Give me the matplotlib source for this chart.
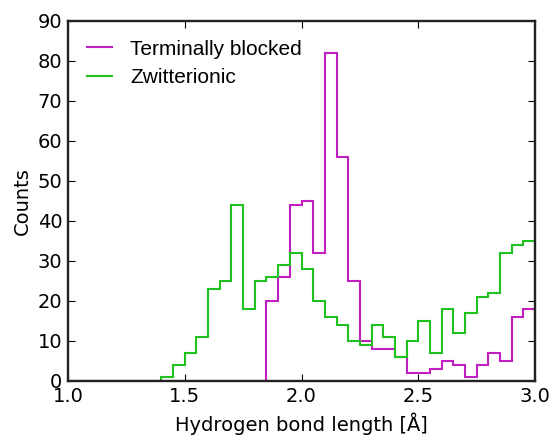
import numpy as np
import matplotlib.pyplot as plt

# bin edges 1.0 .. 3.0, width 0.05
edges = np.round(np.arange(1.0, 3.0001, 0.05), 2)

# counts per bin
blocked = [0, 0, 0, 0, 0, 0, 0, 0, 0, 0,
           0, 0, 0, 0, 0, 0, 0, 20, 26, 44,
           45, 32, 82, 56, 25, 10, 8, 8, 6, 2,
           2, 3, 5, 4, 1, 4, 7, 5, 16, 18]
zwitter = [0, 0, 0, 0, 0, 0, 0, 0, 1, 4,
           7, 11, 23, 25, 44, 18, 25, 26, 29, 32,
           28, 20, 16, 14, 10, 9, 14, 11, 6, 10,
           15, 7, 18, 12, 17, 21, 22, 32, 34, 35]

fig = plt.figure(figsize=(5.55, 4.43), dpi=100)
ax = fig.add_axes([0.1225, 0.14, 0.8415, 0.8126])

ax.stairs(blocked, edges, color='#c21fc2', lw=1.5, label='Terminally blocked')
ax.stairs(zwitter, edges, color='#1fc31f', lw=1.5, label='Zwitterionic')

# spines on top so the zero-count segments disappear under them
for s in ax.spines.values():
    s.set_zorder(5)
    s.set_linewidth(1.7)
    s.set_color('#222222')

ax.set_xlim(1.0, 3.0)
ax.set_ylim(0, 90)
ax.set_xticks([1.0, 1.5, 2.0, 2.5, 3.0])
ax.set_yticks(range(0, 91, 10))
ax.tick_params(direction='in', top=True, right=True, labelsize=14, length=5, pad=4)
ax.set_xlabel('Hydrogen bond length [Å]', fontsize=14, labelpad=5)
ax.set_ylabel('Counts', fontsize=14, labelpad=4)

leg = ax.legend(loc='upper left', frameon=False, handlelength=1.2, handletextpad=0.9,
                prop={'family': 'Liberation Sans', 'size': 15},
                borderaxespad=0.5, labelspacing=0.45)

fig.savefig('out.png', dpi=100)
